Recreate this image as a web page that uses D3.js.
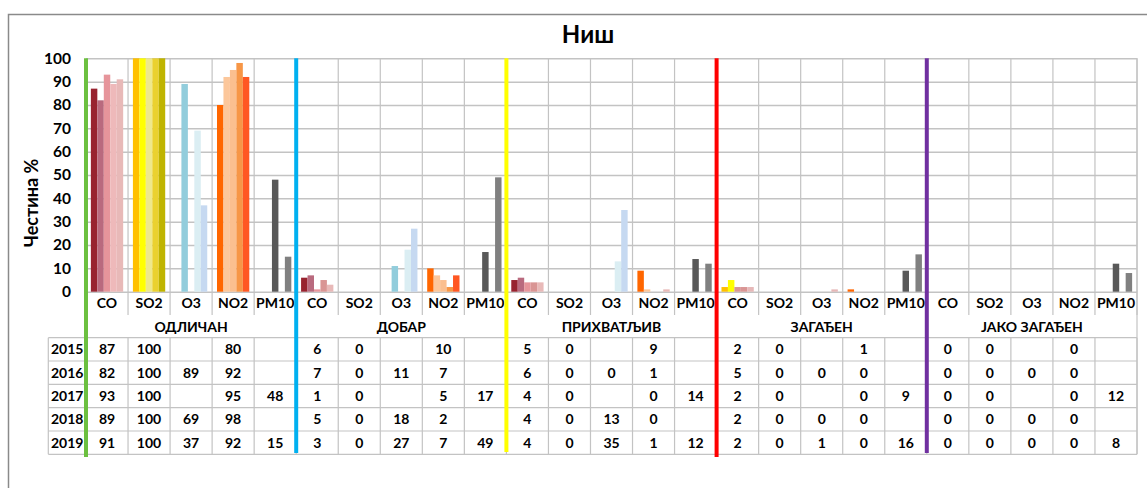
<!DOCTYPE html>
<html><head><meta charset="utf-8">
<script src="https://cdn.jsdelivr.net/npm/d3@7"></script>
<style>
body{margin:0;background:#fff}
svg{display:block;font-family:Lato,"Open Sans",sans-serif;font-weight:bold}
</style>
</head><body><svg id="c" width="1147" height="488"></svg>
<script>
// ---------- data ----------
const title = "Ниш";
const yTitle = "Честина %";
const groups = ["ОДЛИЧАН", "ДОБАР", "ПРИХВАТЉИВ", "ЗАГАЂЕН", "ЈАКО ЗАГАЂЕН"];
const pollutants = ["CO", "SO2", "O3", "NO2", "PM10"];
const years = [2015, 2016, 2017, 2018, 2019];
const yTicks = [0, 10, 20, 30, 40, 50, 60, 70, 80, 90, 100];
// each: 5 groups x 5 pollutants (CO, SO2, O3, NO2, PM10); null = empty cell
const v2015 = [87,100,null,80,null,  6,0,null,10,null,  5,0,null,9,null,  2,0,null,1,null,  0,0,null,0,null];
const v2016 = [82,100,89,92,null,    7,0,11,7,null,     6,0,0,1,null,     5,0,0,0,null,     0,0,0,0,null];
const v2017 = [93,100,null,95,48,    1,0,null,5,17,     4,0,null,0,14,    2,0,null,0,9,     0,0,null,0,12];
const v2018 = [89,100,69,98,null,    5,0,18,2,null,     4,0,13,0,null,    2,0,0,0,null,     0,0,0,0,null];
const v2019 = [91,100,37,92,15,      3,0,27,7,49,       4,0,35,1,12,      2,0,1,0,16,       0,0,0,0,8];
const valuesByYear = [v2015, v2016, v2017, v2018, v2019];

// ---------- styles ----------
const palette = {
  CO:   ["#98232f", "#b96a7e", "#e6959b", "#d99594", "#e8b9b8"],
  SO2:  ["#ffc000", "#ffff00", "#eee88c", "#ead12f", "#bfb400"],
  O3:   ["#92cddc", "#92cddc", "#dbeef3", "#dbeef3", "#c6d9f1"],
  NO2:  ["#ff6600", "#fcc79b", "#fbbf8f", "#f79646", "#ff5722"],
  PM10: ["#595959", "#595959", "#595959", "#808080", "#808080"]
};
const overrides = [
  {g: 0, p: "CO", y: 2018, c: "#eeb9ba"},
  {g: 2, p: "NO2", y: 2019, c: "#e8b9b7"},
  {g: 3, p: "CO", y: 2015, c: "#ffc000"},
  {g: 3, p: "CO", y: 2016, c: "#ffff00"},
  {g: 3, p: "CO", y: 2017, c: "#d99594"},
  {g: 3, p: "CO", y: 2018, c: "#d99594"},
  {g: 3, p: "CO", y: 2019, c: "#e6b8b8"},
  {g: 3, p: "O3", y: 2019, c: "#e6b8b8"},
  {g: 1, p: "NO2", y: 2018, c: "#f79646"}
];
const groupLineColors = ["#6cc040", "#00b0f0", "#ffff00", "#ff0000", "#7030a0"];
const groupLineBottoms = [457, 453, 452, 457, 453];

// ---------- layout ----------
const svg = d3.select("#c");
const L = 86, R = 1137, T = 58.3, B = 291.7;
const tableTop = 337.7, tableBottom = 454.3, yearColL = 48.3;
const catRowBottom = 315;
const gridColor = "#c3c3c3";

const cats = [];
groups.forEach((g, gi) => pollutants.forEach((p, pi) => cats.push({g: gi, p, i: gi * 5 + pi})));

const x = d3.scaleBand().domain(cats.map(d => d.i)).range([L, R]).padding(0);
const xi = d3.scaleBand().domain(years).range([0, x.bandwidth()]).paddingInner(0).paddingOuter(0.755);
const y = d3.scaleLinear().domain([0, 100]).range([B, T]);
const rowY = d3.scaleBand().domain(years).range([tableTop, tableBottom]);

// outer chart border
svg.append("rect").attr("x", 8.5).attr("y", 14.5).attr("width", 1150).attr("height", 500)
  .attr("fill", "none").attr("stroke", "#8a8a8a").attr("stroke-width", 1.5);

// title
svg.append("text").attr("x", 588).attr("y", 43).attr("text-anchor", "middle")
  .attr("font-size", 24).attr("fill", "#000").text(title);

// horizontal gridlines
const gridAxis = d3.axisLeft(y).tickValues(yTicks).tickSize(-(R - L)).tickFormat("");
const gg = svg.append("g").attr("transform", `translate(${L},0)`).call(gridAxis);
gg.select(".domain").remove();
gg.selectAll("line").attr("stroke", gridColor).attr("stroke-width", 1.5);

// vertical category lines in plot and category header row
const bounds = d3.range(1, 26).map(k => (k < 25 ? x(k) : R));
svg.append("g").selectAll("line").data(bounds).join("line")
  .attr("x1", d => d).attr("x2", d => d).attr("y1", T).attr("y2", catRowBottom)
  .attr("stroke", gridColor).attr("stroke-width", 1.2);
// right border header region
svg.append("line").attr("x1", R).attr("x2", R).attr("y1", T).attr("y2", tableBottom)
  .attr("stroke", gridColor).attr("stroke-width", 1.2);

// y axis labels
const yAxis = d3.axisLeft(y).tickValues(yTicks).tickSize(0).tickPadding(0);
const ya = svg.append("g").attr("transform", "translate(71,0)").call(yAxis);
ya.select(".domain").remove();
ya.selectAll("text").attr("font-size", 15.5).attr("font-family", "Lato,sans-serif")
  .attr("font-weight", "bold").attr("fill", "#000");

// y title
svg.append("text").attr("transform", "translate(38,203) rotate(-90)").attr("text-anchor", "middle")
  .attr("font-size", 18).attr("fill", "#000").text(yTitle);

// bars
function colorFor(c, yr, yi) {
  const o = overrides.find(d => d.g === c.g && d.p === c.p && d.y === yr);
  return o ? o.c : palette[c.p][yi];
}
const barData = [];
cats.forEach(c => years.forEach((yr, yi) => {
  const v = valuesByYear[yi][c.i];
  if (v !== null && v > 0) barData.push({c, yr, yi, v});
}));
svg.append("g").selectAll("rect").data(barData).join("rect")
  .attr("x", d => x(d.c.i) + xi(d.yr))
  .attr("width", xi.bandwidth())
  .attr("y", d => y(d.v))
  .attr("height", d => y(0) - y(d.v))
  .attr("fill", d => colorFor(d.c, d.yr, d.yi));

// category labels
svg.append("g").selectAll("text").data(cats).join("text")
  .attr("x", d => x(d.i) + x.bandwidth() / 2).attr("y", 303).attr("dy", "0.36em")
  .attr("text-anchor", "middle").attr("font-size", 14).attr("fill", "#000").text(d => d.p);

// group labels
svg.append("g").selectAll("text").data(groups).join("text")
  .attr("x", (d, i) => x(i * 5) + x.bandwidth() * 2.5).attr("y", 326.5).attr("dy", "0.36em")
  .attr("text-anchor", "middle").attr("font-size", 14).attr("fill", "#000").text(d => d);

// table grid
const tg = svg.append("g").attr("stroke", gridColor).attr("stroke-width", 1.2);
[tableTop, ...years.map(yr => rowY(yr) + rowY.bandwidth())].forEach(yy => {
  tg.append("line").attr("x1", yearColL).attr("x2", R).attr("y1", yy).attr("y2", yy);
});
[yearColL, ...bounds].forEach(xx => {
  tg.append("line").attr("x1", xx).attr("x2", xx).attr("y1", tableTop).attr("y2", tableBottom);
});

// year labels
svg.append("g").selectAll("text").data(years).join("text")
  .attr("x", (yearColL + L) / 2).attr("y", d => rowY(d) + rowY.bandwidth() / 2).attr("dy", "0.36em")
  .attr("text-anchor", "middle").attr("font-size", 14).attr("fill", "#000").text(d => d);

// values
const cellData = [];
years.forEach((yr, yi) => cats.forEach(c => {
  const v = valuesByYear[yi][c.i];
  if (v !== null) cellData.push({yr, c, v});
}));
svg.append("g").selectAll("text").data(cellData).join("text")
  .attr("x", d => x(d.c.i) + x.bandwidth() / 2).attr("y", d => rowY(d.yr) + rowY.bandwidth() / 2)
  .attr("dy", "0.36em").attr("text-anchor", "middle").attr("font-size", 14).attr("fill", "#000")
  .text(d => d.v);

// group boundary lines
svg.append("g").selectAll("line").data(groupLineColors).join("line")
  .attr("x1", (d, i) => x(i * 5)).attr("x2", (d, i) => x(i * 5))
  .attr("y1", T).attr("y2", (d, i) => groupLineBottoms[i])
  .attr("stroke", d => d).attr("stroke-width", 4);
</script>
</body></html>
